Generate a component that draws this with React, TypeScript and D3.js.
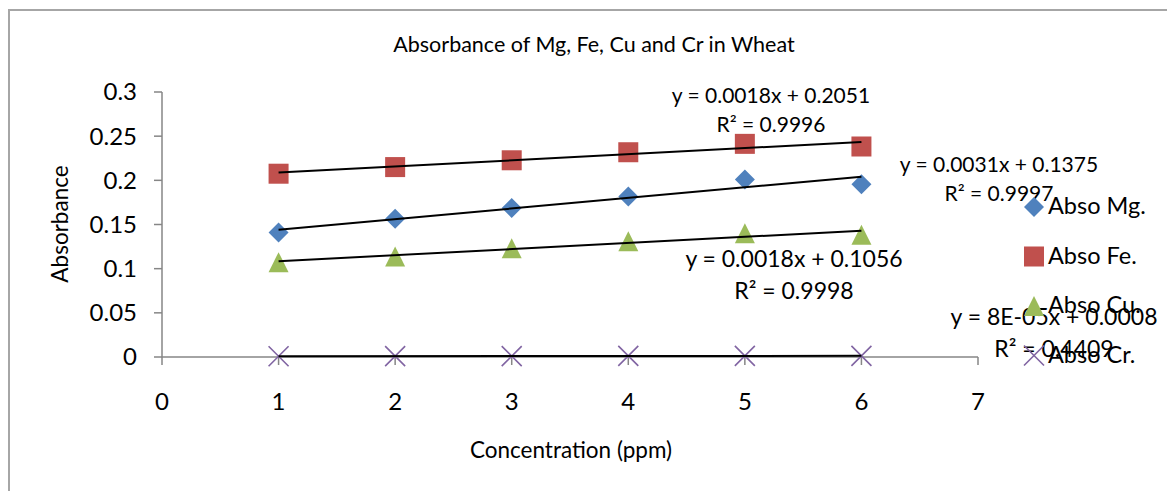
import * as d3 from 'd3';

const concentrations = [1, 2, 3, 4, 5, 6];
const absoMg = [0.141, 0.1565, 0.1686, 0.1818, 0.201, 0.1957];
const absoFe = [0.2075, 0.215, 0.2227, 0.2318, 0.2413, 0.2383];
const absoCu = [0.1074, 0.1139, 0.123, 0.131, 0.1402, 0.1384];
const absoCr = [0.0008, 0.001, 0.001, 0.0012, 0.0012, 0.0013];

const xTicks = [0, 1, 2, 3, 4, 5, 6, 7];
const yTicks = [0, 0.05, 0.1, 0.15, 0.2, 0.25, 0.3];

const seriesNames = ['Abso Mg.', 'Abso Fe.', 'Abso Cu.', 'Abso Cr.'];
const equations = [
  ['y = 0.0031x + 0.1375', 'R² = 0.9997'],
  ['y = 0.0018x + 0.2051', 'R² = 0.9996'],
  ['y = 0.0018x + 0.1056', 'R² = 0.9998'],
  ['y = 8E-05x + 0.0008', 'R² = 0.4409'],
];

const W = 1167;
const H = 491;
const font = 'Lato, "Open Sans", sans-serif';
const colors = ['#4F81BD', '#C0504D', '#9BBB59', '#8064A2'];
const shapes = ['diamond', 'square', 'triangle', 'x'];

// where each trendline label sits (centre x, baseline of first line, size)
const labelPos = [
  { x: 999, y: 172, size: 21 },
  { x: 771, y: 103, size: 21 },
  { x: 794, y: 267, size: 23 },
  { x: 1054, y: 325, size: 23 },
];

const x = d3.scaleLinear().domain([0, 7]).range([162, 978]);
const y = d3.scaleLinear().domain([0, 0.3]).range([357, 92]);

function fit(xs: number[], ys: number[]) {
  const mx = d3.mean(xs)!;
  const my = d3.mean(ys)!;
  const b = d3.sum(xs, (v, i) => (v - mx) * (ys[i] - my)) / d3.sum(xs, (v) => (v - mx) ** 2);
  return { b, a: my - b * mx };
}

function marker(shape: string, cx: number, cy: number, color: string, key: string) {
  const r = 10;
  if (shape === 'diamond') {
    const p = d3.path();
    p.moveTo(cx, cy - r); p.lineTo(cx + r, cy); p.lineTo(cx, cy + r); p.lineTo(cx - r, cy); p.closePath();
    return <path key={key} d={p.toString()} fill={color} />;
  }
  if (shape === 'square') {
    return <rect key={key} x={cx - r} y={cy - r} width={2 * r} height={2 * r} fill={color} />;
  }
  if (shape === 'triangle') {
    const p = d3.path();
    p.moveTo(cx, cy - r); p.lineTo(cx + r, cy + r); p.lineTo(cx - r, cy + r); p.closePath();
    return <path key={key} d={p.toString()} fill={color} />;
  }
  const p = d3.path();
  p.moveTo(cx - r, cy - r); p.lineTo(cx + r, cy + r);
  p.moveTo(cx + r, cy - r); p.lineTo(cx - r, cy + r);
  return <path key={key} d={p.toString()} stroke={color} strokeWidth={1.6} fill="none" />;
}

export default function App() {
  const series = [absoMg, absoFe, absoCu, absoCr];
  const line = d3.line<[number, number]>().x((d) => x(d[0])).y((d) => y(d[1]));

  return (
    <svg width={W} height={H} style={{ position: 'absolute', left: 0, top: 0, background: '#fff' }} fontFamily={font}>
      {/* chart frame, only top and left edges show */}
      <path d={`M9,${H} V10 H${W}`} fill="none" stroke="#a6a6a6" strokeWidth={2} />

      <text x={594} y={52} fontSize={21.5} textAnchor="middle" fill="#000">
        Absorbance of Mg, Fe, Cu and Cr in Wheat
      </text>

      {/* y axis */}
      <line x1={x(0)} x2={x(0)} y1={y(0.3)} y2={y(0)} stroke="#868686" strokeWidth={1.5} />
      {yTicks.map((t) => (
        <g key={t}>
          <line x1={x(0) - 8} x2={x(0)} y1={y(t)} y2={y(t)} stroke="#868686" strokeWidth={1.5} />
          <text x={x(0) - 25} y={y(t)} dy="0.35em" fontSize={24} textAnchor="end">
            {t}
          </text>
        </g>
      ))}
      {/* x axis */}
      <line x1={x(0)} x2={x(7)} y1={y(0)} y2={y(0)} stroke="#868686" strokeWidth={1.5} />
      {xTicks.map((t) => (
        <g key={t}>
          <line x1={x(t)} x2={x(t)} y1={y(0)} y2={y(0) + 8} stroke="#868686" strokeWidth={1.5} />
          <text x={x(t)} y={y(0) + 53} fontSize={24} textAnchor="middle">
            {t}
          </text>
        </g>
      ))}

      <text x={571} y={458} fontSize={22.5} textAnchor="middle">
        Concentration (ppm)
      </text>
      <text transform="translate(68,224) rotate(-90)" fontSize={22.5} textAnchor="middle">
        Absorbance
      </text>

      {series.map((vals, si) =>
        vals.map((v, i) => marker(shapes[si], x(concentrations[i]), y(v), colors[si], `m${si}-${i}`))
      )}

      {series.map((vals, si) => {
        const { a, b } = fit(concentrations, vals);
        const xs = d3.extent(concentrations) as [number, number];
        return (
          <path
            key={`t${si}`}
            d={line(xs.map((c) => [c, a + b * c] as [number, number]))!}
            stroke="#000"
            strokeWidth={2}
            fill="none"
          />
        );
      })}

      {equations.map((eq, si) => (
        <text key={`e${si}`} x={labelPos[si].x} y={labelPos[si].y} fontSize={labelPos[si].size} textAnchor="middle">
          <tspan x={labelPos[si].x}>{eq[0]}</tspan>
          <tspan x={labelPos[si].x} dy={si < 2 ? 29 : 32}>{eq[1]}</tspan>
        </text>
      ))}

      {seriesNames.map((name, si) => (
        <g key={name}>
          {marker(shapes[si], 1034, 207 + si * 49.5, colors[si], `l${si}`)}
          <text x={1048} y={214 + si * 49.5} fontSize={23.5}>
            {name}
          </text>
        </g>
      ))}
    </svg>
  );
}
